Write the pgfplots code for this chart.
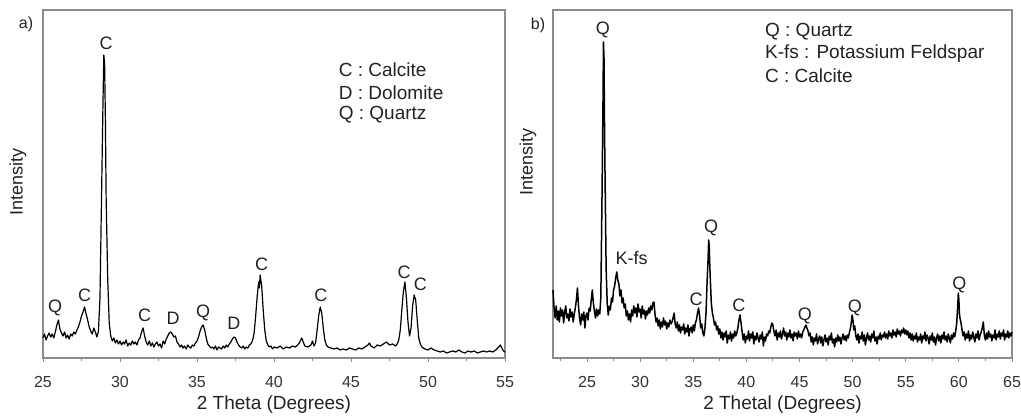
\documentclass[border=0pt]{standalone}
\usepackage{pgfplots}
\pgfplotsset{compat=1.18}
\usepackage{fontspec}
\setmainfont{Liberation Sans}
\definecolor{framec}{HTML}{8C8C8C}
\definecolor{txtc}{HTML}{222222}
\definecolor{tickc}{HTML}{333333}
\newcommand{\fs}[1]{\fontsize{#1}{#1}\selectfont}
\tikzset{
  lbl/.style={font=\fs{9}, text=txtc},
  leg/.style={font=\fs{9.5}, text=txtc, anchor=west},
}
\pgfplotsset{
  xrdstyle/.style={
    anchor=south west, scale only axis,
    ymin=0, ymax=348, ytick=\empty,
    axis line style={framec, line width=0.6pt},
    tick align=outside, xtick pos=bottom,
    major tick length=2.2pt, minor tick length=1.6pt,
    every tick/.style={framec, line width=0.5pt},
    xticklabel style={font=\fs{8}, text=tickc, yshift=-3.5pt},
    /pgf/number format/assume math mode=true,
    xlabel style={font=\fs{9.5}, text=txtc, at={(axis description cs:0.5,0)}, anchor=center, yshift=-23.5pt},
    ylabel={Intensity},
    clip=false,
  },
}
\begin{document}
\begin{tikzpicture}[x=1pt,y=1pt]
\useasboundingbox (0,0) rectangle (510.5,208.5);
% ---------------- panel a ----------------
\begin{axis}[xrdstyle, at={(21.5pt,29.5pt)}, width=231pt, height=174pt,
  xmin=25, xmax=55, xtick={25,30,...,55}, minor xtick={27.5,32.5,...,52.5},
  xlabel={2 Theta (Degrees)},
  ylabel style={font=\fs{9}, text=txtc, at={(axis description cs:-0.0541,0.506)}, anchor=center}]
\addplot[black, line width=0.6pt, line join=round] table {
25.0 20
25.1 24
25.2 18
25.3 22
25.4 25
25.5 21
25.6 24
25.7 20
25.8 26
25.9 33
26.0 38
26.1 29
26.2 25
26.3 22
26.4 26
26.5 20
26.6 23
26.7 19
26.8 24
26.9 22
27.0 26
27.1 24
27.2 28
27.3 31
27.4 36
27.5 42
27.6 46
27.7 51
27.8 44
27.9 38
28.0 31
28.1 27
28.2 24
28.3 30
28.4 26
28.5 21
28.6 27
28.7 60
28.8 160
28.9 260
28.95 303
29.0 295
29.05 240
29.1 160
29.2 80
29.3 35
29.4 22
29.5 17
29.6 20
29.7 15
29.8 18
29.9 14
30.0 17
30.1 13
30.2 16
30.3 14
30.4 18
30.5 12
30.6 15
30.7 13
30.8 17
30.9 14
31.0 16
31.1 13
31.2 18
31.3 20
31.4 26
31.5 30
31.6 22
31.7 16
31.8 13
31.9 17
32.0 12
32.1 15
32.2 11
32.3 14
32.4 16
32.5 12
32.6 14
32.7 10
32.8 17
32.9 14
33.0 19
33.1 22
33.2 25
33.3 26
33.4 24
33.5 21
33.6 22
33.7 16
33.8 14
33.9 11
34.0 13
34.1 10
34.2 12
34.3 9
34.4 13
34.5 11
34.6 10
34.7 13
34.8 12
34.9 15
35.0 17
35.1 21
35.2 27
35.3 31
35.4 33
35.5 28
35.6 20
35.7 14
35.8 12
35.9 10
36.0 11
36.1 9
36.2 12
36.3 8
36.4 11
36.5 10
36.6 9
36.7 12
36.8 10
36.9 13
37.0 11
37.1 14
37.2 16
37.3 19
37.4 21
37.5 20
37.6 16
37.7 13
37.8 11
37.9 10
38.0 12
38.1 9
38.2 11
38.3 10
38.4 13
38.5 14
38.6 17
38.7 24
38.8 40
38.9 60
39.0 76
39.05 70
39.1 83
39.2 72
39.3 48
39.4 28
39.5 17
39.6 13
39.7 11
39.8 12
39.9 9
40.0 11
40.2 10
40.4 12
40.6 9
40.8 11
41.0 10
41.2 12
41.4 11
41.6 14
41.8 20
41.9 16
42.0 12
42.2 11
42.4 13
42.5 17
42.6 12
42.7 15
42.8 28
42.9 42
43.0 51
43.1 45
43.2 30
43.3 18
43.4 13
43.5 11
43.7 10
43.9 9
44.1 10
44.3 8
44.5 9
44.7 8
44.9 10
45.1 9
45.3 8
45.5 10
45.7 9
45.9 11
46.1 13
46.2 15
46.3 12
46.5 10
46.7 13
46.9 12
47.1 14
47.3 16
47.5 13
47.7 14
47.9 12
48.0 14
48.1 18
48.2 28
48.3 48
48.4 66
48.5 76
48.6 60
48.7 36
48.8 22
48.9 30
49.0 52
49.1 63
49.2 58
49.3 38
49.4 20
49.5 14
49.6 11
49.8 9
50.0 8
50.2 10
50.4 8
50.6 7
50.8 6
51.0 7
51.2 5
51.4 6
51.6 7
51.8 6
52.0 8
52.2 6
52.4 5
52.6 7
52.8 6
53.0 7
53.2 5
53.4 6
53.6 7
53.8 6
54.0 7
54.2 6
54.4 8
54.6 11
54.7 13
54.8 10
54.9 7
55.0 6
};
\node[lbl] at (axis cs:25.78,50) {Q};
\node[lbl] at (axis cs:27.7,63) {C};
\node[lbl] at (axis cs:29.1,315) {C};
\node[lbl] at (axis cs:31.6,43) {C};
\node[lbl] at (axis cs:33.45,40) {D};
\node[lbl] at (axis cs:35.4,45) {Q};
\node[lbl] at (axis cs:37.4,35) {D};
\node[lbl] at (axis cs:39.2,94) {C};
\node[lbl] at (axis cs:43.05,63) {C};
\node[lbl] at (axis cs:48.45,86) {C};
\node[lbl] at (axis cs:49.5,74) {C};
\node[leg] at (axis cs:43.75,288) {C : Calcite};
\node[leg] at (axis cs:43.75,265) {D : Dolomite};
\node[leg] at (axis cs:43.75,243) {Q : Quartz};
\end{axis}
\node[font=\fs{8}, text=txtc] at (13,196.5) {a)};
% ---------------- panel b ----------------
\begin{axis}[xrdstyle, at={(276.5pt,29.5pt)}, width=229.5pt, height=174pt,
  xmin=21.8, xmax=65, xtick={25,30,...,65}, minor xtick={22.5,27.5,...,62.5},
  xlabel={2 Thetal (Degrees)},
  ylabel style={font=\fs{9}, text=txtc, at={(axis description cs:-0.0545,0.563)}, anchor=center}]
\addplot[black, line width=0.75pt, line join=round] table {
21.8 68
21.9 50
22.0 40
22.1 52
22.2 38
22.3 47
22.4 36
22.5 50
22.6 42
22.7 48
22.8 35
22.9 46
23.0 52
23.1 40
23.2 44
23.3 37
23.4 49
23.5 41
23.6 46
23.7 36
23.8 44
23.9 50
24.0 58
24.1 70
24.2 52
24.3 40
24.4 33
24.5 44
24.6 38
24.7 46
24.8 30
24.9 42
25.0 45
25.1 38
25.2 50
25.3 47
25.4 58
25.5 68
25.6 55
25.7 47
25.8 40
25.9 49
26.0 42
26.1 48
26.2 44
26.3 60
26.4 150
26.5 250
26.55 316
26.6 300
26.65 230
26.7 180
26.8 90
26.9 55
27.0 43
27.1 52
27.2 48
27.3 60
27.4 56
27.5 68
27.6 72
27.7 80
27.8 86
27.9 78
28.0 74
28.1 62
28.2 68
28.3 55
28.4 60
28.5 50
28.6 54
28.7 42
28.8 47
28.9 38
29.0 44
29.1 36
29.2 48
29.3 42
29.4 52
29.5 45
29.6 50
29.7 41
29.8 54
29.9 46
30.0 49
30.1 40
30.2 52
30.3 44
30.4 48
30.5 39
30.6 47
30.7 43
30.8 50
30.9 45
31.0 52
31.1 48
31.2 55
31.3 56
31.4 44
31.5 36
31.6 40
31.7 32
31.8 38
31.9 29
32.0 36
32.1 31
32.2 40
32.3 33
32.4 37
32.5 29
32.6 35
32.7 31
32.8 38
32.9 34
33.0 36
33.1 40
33.2 45
33.3 34
33.4 30
33.5 36
33.6 27
33.7 33
33.8 25
33.9 31
34.0 28
34.1 34
34.2 24
34.3 30
34.4 26
34.5 33
34.6 22
34.7 29
34.8 31
34.9 25
35.0 33
35.1 27
35.2 35
35.3 38
35.4 45
35.5 50
35.6 42
35.7 30
35.8 34
35.9 25
36.0 22
36.1 30
36.2 45
36.3 75
36.4 100
36.45 118
36.5 112
36.55 95
36.6 80
36.7 55
36.8 45
36.9 40
37.0 33
37.1 36
37.2 28
37.3 32
37.4 24
37.5 29
37.6 20
37.7 26
37.8 18
37.9 25
38.0 21
38.1 27
38.2 15
38.3 23
38.4 19
38.5 26
38.6 17
38.7 24
38.8 20
38.9 27
39.0 22
39.1 25
39.2 30
39.3 38
39.4 43
39.5 35
39.6 26
39.7 18
39.8 24
39.9 15
40.0 22
40.1 19
40.2 27
40.3 17
40.4 24
40.5 20
40.6 26
40.7 14
40.8 22
40.9 18
41.0 25
41.1 20
41.2 16
41.3 23
41.4 19
41.5 26
41.6 12
41.7 21
41.8 17
41.9 24
42.0 22
42.1 27
42.2 25
42.3 31
42.4 35
42.5 33
42.6 26
42.7 22
42.8 28
42.9 18
43.0 25
43.1 21
43.2 27
43.3 19
43.4 24
43.5 30
43.6 22
43.7 26
43.8 18
43.9 25
44.0 21
44.1 28
44.2 20
44.3 24
44.4 17
44.5 26
44.6 22
44.7 25
44.8 19
44.9 27
45.0 21
45.1 24
45.2 20
45.3 26
45.4 28
45.5 31
45.6 33
45.7 30
45.8 27
45.9 22
46.0 25
46.1 16
46.2 21
46.3 13
46.4 20
46.5 17
46.6 24
46.7 14
46.8 19
46.9 22
47.0 15
47.1 21
47.2 12
47.3 18
47.4 23
47.5 16
47.6 20
47.7 13
47.8 22
47.9 18
48.0 25
48.1 15
48.2 19
48.3 11
48.4 20
48.5 16
48.6 23
48.7 17
48.8 21
48.9 14
49.0 20
49.1 24
49.2 18
49.3 22
49.4 17
49.5 23
49.6 20
49.7 26
49.8 30
49.9 38
49.95 43
50.0 40
50.05 36
50.1 28
50.2 32
50.3 22
50.4 18
50.5 24
50.6 15
50.7 22
50.8 19
50.9 26
51.0 17
51.1 23
51.2 13
51.3 20
51.4 25
51.5 18
51.6 22
51.7 16
51.8 24
51.9 20
52.0 27
52.1 17
52.2 21
52.3 14
52.4 22
52.5 19
52.6 25
52.7 18
52.8 23
52.9 21
53.0 26
53.1 20
53.2 24
53.3 19
53.4 27
53.5 22
53.6 25
53.7 20
53.8 28
53.9 23
54.0 26
54.1 21
54.2 29
54.3 24
54.4 27
54.5 22
54.6 28
54.7 25
54.8 30
54.9 24
55.0 28
55.1 23
55.2 27
55.3 20
55.4 25
55.5 18
55.6 24
55.7 17
55.8 22
55.9 19
56.0 25
56.1 16
56.2 21
56.3 18
56.4 24
56.5 15
56.6 22
56.7 19
56.8 26
56.9 17
57.0 23
57.1 20
57.2 14
57.3 22
57.4 18
57.5 25
57.6 16
57.7 21
57.8 13
57.9 20
58.0 24
58.1 17
58.2 22
58.3 15
58.4 23
58.5 19
58.6 26
58.7 18
58.8 22
58.9 16
59.0 24
59.1 20
59.2 15
59.3 23
59.4 19
59.5 25
59.6 21
59.7 27
59.8 35
59.9 55
59.95 65
60.0 58
60.05 45
60.1 40
60.2 35
60.3 28
60.4 22
60.5 26
60.6 18
60.7 24
60.8 20
60.9 27
61.0 17
61.1 23
61.2 19
61.3 26
61.4 21
61.5 16
61.6 24
61.7 20
61.8 27
61.9 18
62.0 23
62.1 26
62.2 30
62.3 36
62.4 22
62.5 18
62.6 25
62.7 19
62.8 27
62.9 21
63.0 24
63.1 17
63.2 23
63.3 20
63.4 28
63.5 18
63.6 24
63.7 21
63.8 27
63.9 19
64.0 25
64.1 22
64.2 28
64.3 18
64.4 24
64.5 21
64.6 27
64.7 20
64.8 25
64.9 22
65.0 26
};
\node[lbl] at (axis cs:26.5,328) {Q};
\node[lbl] at (axis cs:29.2,100) {K-fs};
\node[lbl] at (axis cs:35.26,59) {C};
\node[lbl] at (axis cs:36.67,130) {Q};
\node[lbl] at (axis cs:39.3,53) {C};
\node[lbl] at (axis cs:45.5,42) {Q};
\node[lbl] at (axis cs:50.2,50) {Q};
\node[lbl] at (axis cs:60.04,73) {Q};
\node[leg] at (axis cs:41.1,326) {Q : Quartz};
\node[leg] at (axis cs:41.1,304) {K-fs : Potassium Feldspar};
\node[leg] at (axis cs:41.1,282) {C : Calcite};
\end{axis}
\node[font=\fs{8}, text=txtc] at (269,196) {b)};
\end{tikzpicture}
\end{document}
